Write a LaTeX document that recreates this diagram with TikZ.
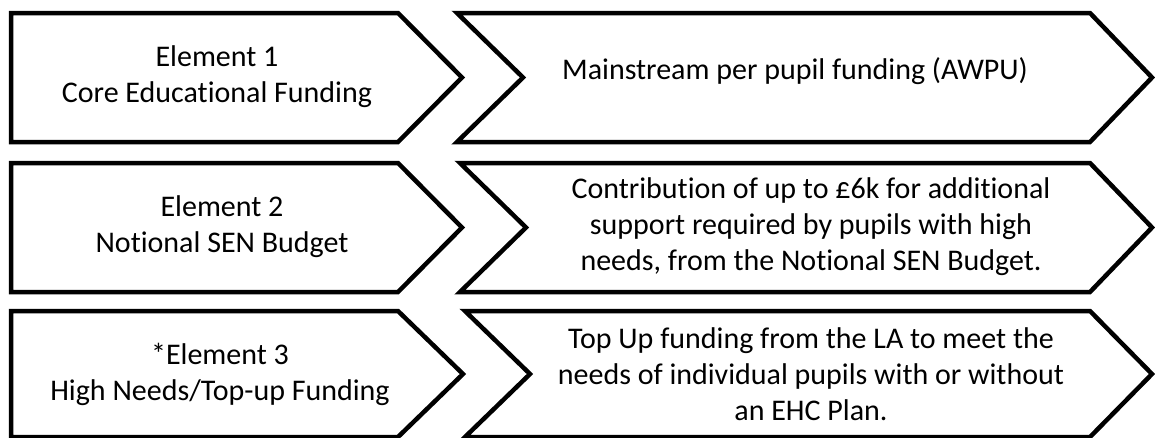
\documentclass[tikz,border=0pt]{standalone}
\usepackage{fontspec}
\setmainfont{Carlito}[Ligatures=NoCommon]
\begin{document}
\begin{tikzpicture}[x=1pt,y=-1pt,
  shapeline/.style={draw=black,line width=4.5pt,fill=white,line join=miter},
  txt/.style={font=\fontsize{30}{36}\selectfont,align=center,text=black,inner sep=0pt}]
\useasboundingbox (0,0) rectangle (1155,437);
% row 1
\draw[shapeline] (11,13) -- (398,13) -- (462,77.5) -- (398,142) -- (11,142) -- cycle;
\draw[shapeline] (457,13) -- (1090,13) -- (1152,77.5) -- (1090,142) -- (457,142) -- (523,77.5) -- cycle;
% row 2
\draw[shapeline] (11,163) -- (398,163) -- (462,227.5) -- (398,292) -- (11,292) -- cycle;
\draw[shapeline] (460,163) -- (1090,163) -- (1152,227.5) -- (1090,292) -- (460,292) -- (526,227.5) -- cycle;
% row 3
\draw[shapeline] (11,311) -- (398,311) -- (463,374) -- (398,437) -- (11,437) -- cycle;
\draw[shapeline] (465,311) -- (1090,311) -- (1152,374) -- (1090,437) -- (465,437) -- (530,374) -- cycle;
% texts
\node[txt] (e1) at (217,77) {Element 1\\Core Educational Funding};
\node[txt] (d1) at (795,71) {Mainstream per pupil funding (AWPU)};
\node[txt] (e2) at (222,227) {Element 2\\Notional SEN Budget};
\node[txt] (d2) at (811,227) {Contribution of up to £6k for additional\\support required by pupils with high\\needs, from the Notional SEN Budget.};
\node[txt] (e3) at (220,374) {*Element 3\\High Needs/Top-up Funding};
\node[txt] (d3) at (811,374) {Top Up funding from the LA to meet the\\needs of individual pupils with or without\\an EHC Plan.};
\end{tikzpicture}
\end{document}
